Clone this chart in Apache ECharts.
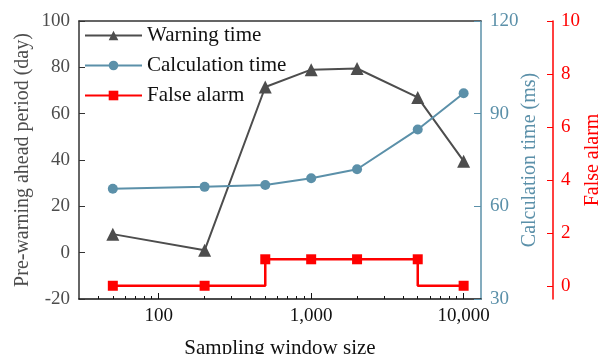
<!DOCTYPE html>
<html>
<head>
<meta charset="utf-8">
<script src="https://cdn.jsdelivr.net/npm/echarts@6/dist/echarts.min.js"></script>
<style>
  html, body { margin: 0; padding: 0; background: #fff; }
  #chart { width: 602px; height: 354px; }
</style>
</head>
<body>
<div id="chart"></div>
<script>
// sampling window sizes (x, log scale)
var windowSizes = [50, 200, 500, 1000, 2000, 5000, 10000];
// pre-warning ahead period (day), left axis
var warningTime = [8, 1, 71.5, 79, 79.5, 67, 39.5];
// calculation time (ms), first right axis
var calcTime = [65.7, 66.3, 66.9, 69.1, 72, 84.9, 96.6];
// false alarm count, second right axis
var falseAlarm = [0, 0, 1, 1, 1, 1, 0];

var xMajorTicks = [100, 1000, 10000];
var xMinorTicks = [40, 50, 60, 70, 80, 90, 200, 300, 400, 500, 600, 700, 800, 900,
                   2000, 3000, 4000, 5000, 6000, 7000, 8000, 9000];
var alarmTicks = [0, 2, 4, 6, 8, 10];

var FONT = 'Liberation Serif';
var GREY = '#4d4d4d';
var BLUE = '#5b90a9';
var RED = '#ff0000';

function pairs(ys) {
  return ys.map(function (v, i) { return [windowSizes[i], v]; });
}

// false alarm drawn as steps, the vertical jump sits on the raised point
var alarmPath = [];
falseAlarm.forEach(function (v, i) {
  if (i > 0 && v !== falseAlarm[i - 1]) {
    var xi = v > falseAlarm[i - 1] ? windowSizes[i] : windowSizes[i - 1];
    alarmPath.push({ value: [xi, Math.min(v, falseAlarm[i - 1])], symbol: 'none' });
  }
  alarmPath.push([windowSizes[i], v]);
});

var chart = echarts.init(document.getElementById('chart'));
chart.setOption({
  animation: false,
  textStyle: { fontFamily: FONT },
  grid: { left: 79, right: 121, top: 21, bottom: 55, containLabel: false, outerBoundsMode: 'none' },
  legend: {
    orient: 'vertical',
    left: 84,
    top: 25,
    padding: 0,
    itemWidth: 57,
    itemHeight: 12,
    itemGap: 9,
    itemTextGap: 8,
    textStyle: { fontFamily: FONT, fontSize: 21, color: '#111' },
    data: ['Warning time', 'Calculation time', 'False alarm']
  },
  xAxis: [
    {
      type: 'log',
      logBase: 10,
      min: 30,
      max: 13000,
      position: 'bottom',
      name: 'Sampling window size',
      nameLocation: 'middle',
      nameGap: 39,
      nameTextStyle: { fontFamily: FONT, fontSize: 21, color: '#111' },
      axisLine: { onZero: false, lineStyle: { color: '#111', width: 1.5 } },
      axisTick: { inside: true, length: 6, customValues: xMajorTicks, lineStyle: { color: '#111' } },
      axisLabel: {
        customValues: xMajorTicks,
        margin: 8,
        fontFamily: FONT,
        fontSize: 19,
        color: '#111',
        formatter: function (v) { return Number(v).toLocaleString('en-US'); }
      },
      splitLine: { show: false }
    },
    {
      type: 'log',
      logBase: 10,
      min: 30,
      max: 13000,
      position: 'bottom',
      axisLine: { show: false, onZero: false },
      axisTick: { inside: true, length: 3, customValues: xMinorTicks, lineStyle: { color: '#111' } },
      axisLabel: { show: false },
      splitLine: { show: false }
    },
    {
      type: 'log',
      logBase: 10,
      min: 30,
      max: 13000,
      position: 'top',
      axisLine: { onZero: false, lineStyle: { color: '#333', width: 1.5 } },
      axisTick: { show: false },
      axisLabel: { show: false },
      splitLine: { show: false }
    }
  ],
  yAxis: [
    {
      type: 'value',
      position: 'left',
      min: -20,
      max: 100,
      interval: 20,
      name: 'Pre-warning ahead period (day)',
      nameLocation: 'middle',
      nameGap: 46,
      nameMoveOverlap: false,
      nameTextStyle: { fontFamily: FONT, fontSize: 20, color: GREY },
      axisLine: { show: true, onZero: false, lineStyle: { color: '#333', width: 1.5 } },
      axisTick: { show: true, inside: true, length: 6, lineStyle: { color: '#333' } },
      axisLabel: { margin: 9, fontFamily: FONT, fontSize: 19, color: GREY },
      splitLine: { show: false }
    },
    {
      type: 'value',
      position: 'right',
      min: 30,
      max: 120,
      interval: 30,
      name: 'Calculation time (ms)',
      nameLocation: 'middle',
      nameGap: 39,
      nameMoveOverlap: false,
      nameTextStyle: { fontFamily: FONT, fontSize: 20, color: BLUE },
      axisLine: { show: true, onZero: false, lineStyle: { color: BLUE, width: 1.5 } },
      axisTick: { show: true, inside: true, length: 7, lineStyle: { color: BLUE } },
      axisLabel: { margin: 9, fontFamily: FONT, fontSize: 19, color: BLUE },
      splitLine: { show: false }
    },
    {
      type: 'value',
      position: 'right',
      offset: 72,
      min: -0.5,
      max: 10,
      name: 'False alarm',
      nameLocation: 'middle',
      nameGap: 30,
      nameMoveOverlap: false,
      nameTextStyle: { fontFamily: FONT, fontSize: 20, color: RED },
      axisLine: { show: true, onZero: false, lineStyle: { color: RED, width: 1.5 } },
      axisTick: { show: true, inside: true, length: 6, customValues: alarmTicks, lineStyle: { color: RED } },
      axisLabel: { customValues: alarmTicks, margin: 8, fontFamily: FONT, fontSize: 19, color: RED },
      splitLine: { show: false }
    }
  ],
  series: [
    {
      name: 'Warning time',
      type: 'line',
      xAxisIndex: 0,
      yAxisIndex: 0,
      symbol: 'triangle',
      symbolSize: 13,
      color: GREY,
      lineStyle: { width: 2, color: GREY },
      itemStyle: { color: GREY },
      data: pairs(warningTime)
    },
    {
      name: 'Calculation time',
      type: 'line',
      xAxisIndex: 0,
      yAxisIndex: 1,
      symbol: 'circle',
      symbolSize: 10,
      color: BLUE,
      lineStyle: { width: 2, color: BLUE },
      itemStyle: { color: BLUE },
      data: pairs(calcTime)
    },
    {
      name: 'False alarm',
      type: 'line',
      xAxisIndex: 0,
      yAxisIndex: 2,
      symbol: 'rect',
      symbolSize: 10,
      color: RED,
      lineStyle: { width: 2.5, color: RED },
      itemStyle: { color: RED },
      data: alarmPath
    }
  ]
});
</script>
</body>
</html>
